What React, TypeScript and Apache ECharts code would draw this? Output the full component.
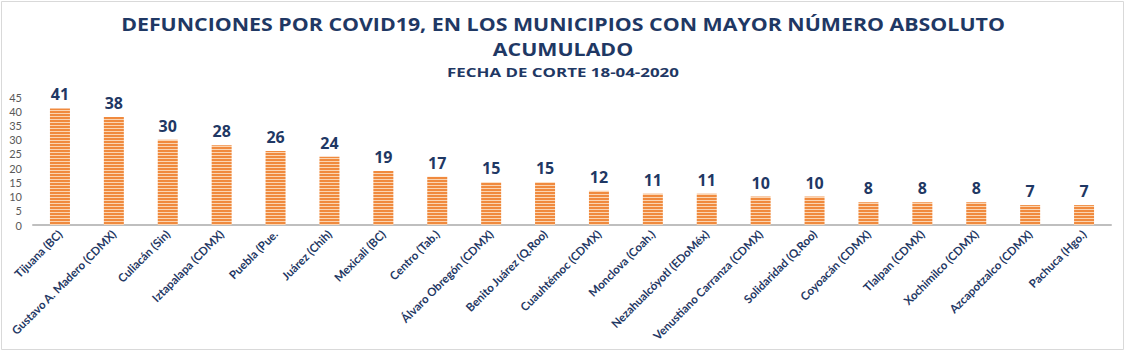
import React, { useEffect, useRef } from "react";
import * as echarts from "echarts";

const titleLines = [
  "DEFUNCIONES POR COVID19, EN LOS MUNICIPIOS CON MAYOR NÚMERO ABSOLUTO",
  "ACUMULADO",
];
const subtitle = "FECHA DE CORTE 18-04-2020";

const municipios = [
  "Tijuana (BC)",
  "Gustavo A. Madero (CDMX)",
  "Culiacán (Sin)",
  "Iztapalapa (CDMX)",
  "Puebla (Pue.",
  "Juárez (Chih)",
  "Mexicali (BC)",
  "Centro (Tab.)",
  "Álvaro Obregón (CDMX)",
  "Benito Juárez (Q.Roo)",
  "Cuauhtémoc (CDMX)",
  "Monclova (Coah.)",
  "Nezahualcóyotl (EDoMéx)",
  "Venustiano Carranza (CDMX)",
  "Solidaridad (Q.Roo)",
  "Coyoacán (CDMX)",
  "Tlalpan (CDMX)",
  "Xochimilco (CDMX)",
  "Azcapotzalco (CDMX)",
  "Pachuca (Hgo.)",
];

const defunciones = [41, 38, 30, 28, 26, 24, 19, 17, 15, 15, 12, 11, 11, 10, 10, 8, 8, 8, 7, 7];

const yMin = 0;
const yMax = 45;
const yInterval = 5;

function makeStripe(): HTMLCanvasElement {
  const c = document.createElement("canvas");
  c.width = 4;
  c.height = 3;
  const ctx = c.getContext("2d")!;
  ctx.fillStyle = "#F08A3E";
  ctx.fillRect(0, 0, 4, 2);
  ctx.fillStyle = "#FBD5B2";
  ctx.fillRect(0, 2, 4, 1);
  return c;
}

export default function App() {
  const ref = useRef<HTMLDivElement>(null);
  useEffect(() => {
    if (!ref.current) return;
    const chart = echarts.init(ref.current, null, { renderer: "svg" });
    const navy = "#1F3864";
    const titleText = (text: string, y: number, size: number, sx: number) => ({
      type: "text",
      x: 563,
      y,
      scaleX: sx,
      silent: true,
      style: {
        text,
        fontFamily: "Open Sans",
        fontSize: size,
        fontWeight: "bold",
        fill: navy,
        textAlign: "center",
        textVerticalAlign: "middle",
      },
    });
    chart.setOption({
      animation: false,
      backgroundColor: "#ffffff",
      graphic: [
        {
          type: "rect",
          shape: { x: 1.5, y: 1.5, width: 1122, height: 348 },
          style: { fill: "none", stroke: "#D9D9D9", lineWidth: 1 },
          silent: true,
        },
        titleText(titleLines[0], 24, 17.5, 1.22),
        titleText(titleLines[1], 49, 17.5, 1.22),
        titleText(subtitle, 72, 13, 1.3),
      ],
      grid: { left: 33, right: 15, top: 97, bottom: 129, containLabel: false },
      xAxis: {
        type: "category",
        data: municipios,
        axisLine: { show: true, lineStyle: { color: "#BFBFBF", width: 2 } },
        axisTick: { show: false },
        axisLabel: {
          rotate: 45,
          interval: 0,
          margin: 7,
          fontFamily: "Lato",
          fontWeight: "bold",
          fontSize: 11.5,
          color: navy,
        },
      },
      yAxis: {
        type: "value",
        min: yMin,
        max: yMax,
        interval: yInterval,
        axisLine: { show: false },
        axisTick: { show: false },
        splitLine: { show: false },
        axisLabel: {
          fontFamily: "Lato",
          fontSize: 11,
          color: "#595959",
          margin: 11,
        },
      },
      series: [
        {
          type: "bar",
          data: defunciones,
          barWidth: 20,
          itemStyle: {
            color: { image: makeStripe(), repeat: "repeat" },
          },
          label: {
            show: true,
            position: "top",
            distance: 6,
            fontFamily: "Open Sans",
            fontSize: 16,
            fontWeight: "bold",
            color: navy,
          },
        },
      ],
    });
    return () => chart.dispose();
  }, []);
  return (
    <div
      ref={ref}
      style={{ position: "fixed", left: 0, top: 0, width: 1126, height: 354 }}
    />
  );
}
